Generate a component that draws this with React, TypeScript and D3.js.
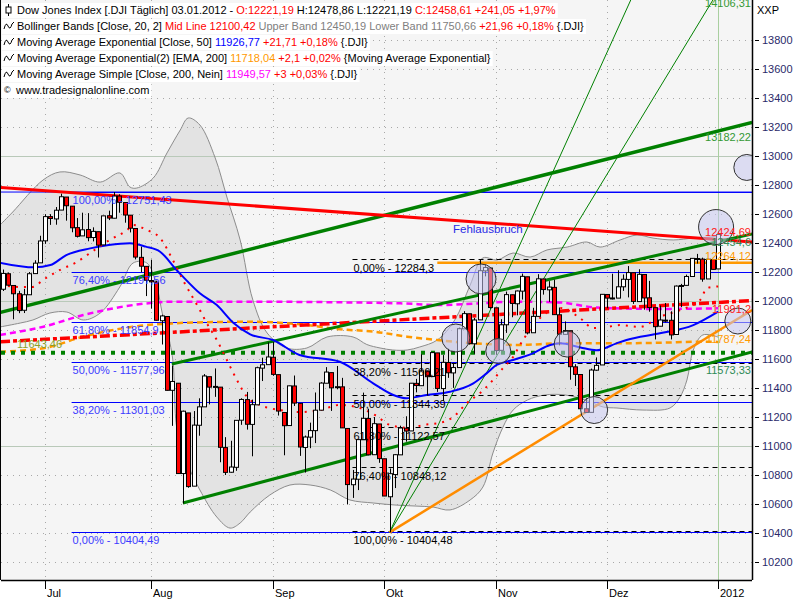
import React, { useLayoutEffect, useRef, useState } from 'react';
import * as d3 from 'd3';

// ---------- DATA ----------
const opens = [12081,12188,12107,12050,11936,12043,12189,12263,
12415,12582,12566,12627,12717,12654,12506,12449,12493,12438,12478,12387,12588,12571,12724,12679,12592,12500,12301,12239,
12141,12131,11864,11893,11384,11433,10810,11228,10723,11143,11270,11478,11404,11406,10989,10819,10853,11178,11320,11149,11284,11537,11561,
11612,11492,11231,11141,11414,11294,10990,11061,11106,11247,11433,11506,11402,11408,11121,10733,10771,11043,11190,10940,11152,
10912,10650,10803,10939,11123,11104,11432,11416,11518,11479,11642,11396,11576,11504,11541,11808,11912,11705,11870,12208,12227,
11953,11660,11836,12043,11981,12068,12167,11781,11894,12152,12077,12094,11905,11770,11795,11546,11493,11257,11232,11523,11559,
12045,12021,12020,12098,12149,12195,11996,12183,12022,11954,11826,11868,11867,11769,12103,12108,12169,12293,12289,12152,12286,
12221.19];
const highs = [12217,12197,12107,12070,12084,12200,12281,12450,
12599,12599,12648,12740,12717,12654,12572,12609,12606,12508,12478,12588,12623,12751.43,12736,12679,12592,12500,12375,12241,
12285,12140,11905,11893,11555,11433,11244,11228,11241,11329,11496,11478,11535,11406,11061,11036,11177,11329,11373,11320,11547,11609,11715,
11717,11492,11231,11416,11486,11294,11072,11161,11369,11440,11544,11506,11552,11470,11121,10835,11044,11368,11257,11200,11152,
10912,10845,10944,11140,11205,11433,11463,11633,11518,11649,11642,11627,11671,11574,11817,11930,11912,11883,12284.3,12251,12227,
11953,11875,12065,12043,12072,12189,12167,11953,12185,12152,12137,12147,11955,11859,11795,11564,11493,11329,11534,11611,12046,
12047,12188,12212,12183,12241,12195,12219,12183,12139,11954,11969,11986,11929,12107,12118,12182,12294,12325,12299,12292,12290,
12478.86];
const lows = [12069,12107,11874,11916,11917,12043,12188,12263,
12394,12525,12526,12627,12554,12474,12438,12449,12412,12411,12300,12387,12558,12570,12609,12540,12473,12287,12199,12034,
11947,11866,11700,11383,11139,10809,10604,10712,10723,11071,11270,11287,11339,10888,10800,10816,10829,11146,11113,10929,11284,11448,11561,
11484,11210,10936,11140,11276,10932,10817,10985,11020,11247,11433,11242,11391,11124,10597,10642,10696,11043,10936,10940,10884,
10655,10404.49,10710,10939,11030,11104,11370,11416,11347,11479,11373,11310,11470,11401,11541,11808,11700,11636,11870,12170,11946,
11629,11660,11780,11888,11901,12010,11770,11781,11894,12044,11994,11905,11694,11769,11457,11414,11257,11231,11232,11519,11559,
11950,12011,12020,12070,12025,11980,11996,11940,11926,11735,11826,11853,11735,11769,11958,12106,12169,12258,12133,12152,12217,
12221.19];
const closes = [12190,12109,12050,11934,12043,12188,12261,12414,
12582,12569,12626,12719,12657,12505,12446,12491,12437,12480,12385,12587,12572,12724,12681,12593,12502,12303,12240,12143,
12132,11867,11897,11384,11445,10810,11240,10720,11144,11270,11483,11406,11411,10991,10818,10855,11177,11321,11150,11285,11540,11560,11614,
11494,11241,11140,11415,11296,10993,11062,11106,11247,11434,11510,11401,11409,11125,10734,10772,11044,11191,10939,11154,10913,
10655,10809,10940,11124,11103,11433,11417,11519,11478,11644,11397,11577,11505,11541,11809,11913,11706,11869,12209,12231,11955,
11658,11836,12044,11983,12069,12170,11780,11894,12153,12079,12096,11906,11771,11796,11547,11494,11257,11231,11524,11556,12046,
12020,12019,12098,12150,12196,11997,12184,12021,11955,11823,11869,11866,11766,12103,12107,12169,12294,12291,12151,12288,12218,
12458.61];

const monthLabels = ['Jul', 'Aug', 'Sep', 'Okt', 'Nov', 'Dez', '2012'];
const monthStartIdx = [8, 28, 51, 72, 93, 114, 135];
const yTicks = [10200,10400,10600,10800,11000,11200,11400,11600,11800,12000,12200,12400,12600,12800,13000,13200,13400,13600,13800];
const solidLevels = [11000, 12000, 13000];

type P = [number, number];
const bbUpper: P[] = [[-0.5,12524],[1.9,12614],[7.6,12834],[10.8,12890],[14.6,12869],[18.4,12820],[22.1,12883],[24,12786],[25.3,12779],[28.4,12848],[31,13021],[33.5,13179],[35,13262],[37.2,13214],[40.1,12986],[42.3,12717],[44.8,12421],[47.2,12007],[49.9,11779],[53.6,11676],[57.4,11676],[61.2,11752],[66.1,11752],[68.7,11700],[71.2,11676],[73.6,11662],[76.3,11662],[78.7,11683],[82,11731],[85.3,11869],[88.2,12110],[90.6,12297],[93.3,12283],[96.3,12331],[99.5,12303],[102.7,12352],[106.5,12372],[110.2,12407],[112.7,12372],[116.5,12421],[119.7,12455],[122.7,12434],[126.5,12421],[130.3,12434],[133.5,12441],[135,12450.19]];
const bbLower: P[] = [[-0.5,11821],[3.3,11848],[5.7,11869],[8.9,11917],[12.1,11924],[15.2,11869],[18.4,11917],[22.1,12097],[24.6,12262],[27.2,12262],[29.1,12097],[30.1,11917],[31,11800],[32.1,11593],[32.9,11110],[34.8,10883],[37.2,10697],[40.4,10510],[42.9,10434],[44.8,10469],[46.7,10545],[50.4,10662],[54.2,10731],[58,10731],[61.8,10697],[65.5,10628],[69.9,10607],[74,10593],[77.8,10586],[81.2,10579],[84.4,10559],[88.2,10628],[90.6,10717],[92.5,10952],[94.4,11131],[96.3,11248],[99,11317],[102.3,11352],[106.1,11352],[109.9,11317],[113.3,11269],[115.9,11262],[120.8,11248],[125.9,11262],[127.8,11338],[129.1,11455],[130.3,11662],[132.1,11766],[135,11750.66]];
const bbMid: P[] = [[-0.5,12110],[3.3,12097],[5.7,12097],[7.6,12145],[10.8,12214],[14,12269],[16.5,12331],[20.2,12421],[23.5,12490],[24.6,12524],[27.2,12490],[29.7,12434],[32.1,12283],[34,12145],[37.2,11938],[38.5,11848],[40.4,11731],[42.3,11593],[44.2,11455],[46.1,11338],[48.5,11283],[52.3,11248],[56.1,11234],[59.9,11248],[63.6,11283],[67.4,11262],[70.2,11214],[73.1,11145],[76.9,11124],[79.3,11145],[82.5,11159],[85,11200],[87.6,11297],[90.1,11366],[92.5,11455],[94.4,11538],[96.3,11614],[97.6,11697],[101.4,11883],[105.2,11952],[108.9,11883],[111.4,11814],[114,11821],[116.5,11834],[120.2,11821],[124,11890],[127.8,11938],[131.6,12007],[132.9,12090],[135,12100.42]];
const ema50: P[] = [[-0.5,12264],[6,12232],[9,12248],[12,12317],[16.5,12363],[20,12386],[24,12398],[27,12375],[29.7,12340],[32.8,12214],[34,12168],[37.2,12053],[40.4,11972],[43.5,11850],[46.7,11770],[51,11731],[56,11628],[63.6,11581],[69.9,11432],[73.7,11352],[76.2,11329],[80,11352],[84.4,11374],[88.8,11432],[91.3,11501],[93.2,11559],[96.3,11593],[100,11639],[103.3,11697],[105.2,11708],[109,11680],[112,11660],[115.8,11708],[117.7,11731],[124,11777],[130.3,11834],[135,11926.77]];
const ema200: P[] = [[-0.5,11650],[7.7,11674],[15.2,11754],[24.6,11823],[32.2,11846],[40,11855],[46.7,11857],[56,11840],[63.6,11805],[70,11789],[76.3,11754],[82,11731],[88.8,11708],[97.6,11697],[105.2,11708],[113.3,11708],[124,11712],[131,11719],[135,11718.04]];
const sma200: P[] = [[-0.5,11766],[7.7,11823],[15.2,11903],[24.6,11972],[32.2,11995],[46.7,11995],[75,11984],[82.5,11972],[90,11984],[96.3,11995],[105,11990],[112,11955],[124,11945],[135,11949.57]];
const redRegression: P[] = [[-0.5,11719],[141.4,12003]];
const greenDottedLevel = 11643.46;

const fibLeftPct = [100, 76.4, 61.8, 50, 38.2, 0];
const fibLeftVal = [12751.43, 12197.56, 11854.9, 11577.96, 11301.03, 10404.49];
const fibMidPct = [0, 38.2, 50, 61.8, 76.4, 100];
const fibMidVal = [12284.3, 11566.21, 11344.39, 11122.57, 10848.12, 10404.48];
const orangeLevel = 12264.12;

const trendLines = [
  { p0: [-0.5, 11921] as P, p1: [141.4, 13231] as P, color: '#008000', w: 3.5 },
  { p0: [-0.5, 12783] as P, p1: [141.4, 12407] as P, color: '#ff0000', w: 3 },
  { p0: [31.9, 11566] as P, p1: [141.4, 12462] as P, color: '#008000', w: 3 },
  { p0: [34, 10607] as P, p1: [141.4, 11649] as P, color: '#008000', w: 3 },
  { p0: [73, 10404.48] as P, p1: [118.5, 14076] as P, color: '#008000', w: 1 },
  { p0: [73, 10404.48] as P, p1: [134, 14076] as P, color: '#008000', w: 1 },
  { p0: [73, 10404.48] as P, p1: [141.4, 11938] as P, color: '#ff8c00', w: 2.5 },
];

const circles: [number, number, number][] = [[90.25,12152,15],[85.5,11745,14],[93.5,11655,12.5],[106.5,11703,13],[111.6,11248,13.5],[134.6,12510,17.5],[138.7,11862,13],[140.4,12921,13]];

const rightLabels = [
  { text: '14106,31', value: 14106.31, color: '#339933', below: true },
  { text: '13182,22', value: 13182.22, color: '#339933', below: true },
  { text: '12454,6', value: 12454.6, color: '#2e8b57', below: true },
  { text: '12424,69', value: 12424.69, color: '#ff2020', below: false },
  { text: '12264,12', value: 12264.12, color: '#ff9900', below: false },
  { text: '11991,2', value: 11991.2, color: '#ff2020', below: true },
  { text: '11787,24', value: 11787.24, color: '#ff9900', below: true },
  { text: '11573,33', value: 11573.33, color: '#2e8b57', below: true },
];

const headerRows: [string, string][][] = [
  [['Dow Jones Index [.DJI  Täglich] 03.01.2012 - ', '#000'], ['O:12221,19', '#ff0000'], [' H:12478,86 L:12221,19 ', '#000'], ['C:12458,61 +241,05 +1,97%', '#ff0000']],
  [['Bollinger Bands [Close, 20, 2] ', '#000'], ['Mid Line 12100,42', '#ff0000'], [' Upper Band 12450,19 Lower Band 11750,66', '#808080'], [' +21,96 +0,18%', '#ff0000'], [' {.DJI}', '#000']],
  [['Moving Average Exponential [Close, 50] ', '#000'], ['11926,77', '#0000ff'], [' +21,71 +0,18%', '#ff0000'], [' {.DJI}', '#000']],
  [['Moving Average Exponential(2) [EMA, 200] ', '#000'], ['11718,04', '#ff9900'], [' +2,1 +0,02%', '#ff0000'], [' {Moving Average Exponential}', '#000']],
  [['Moving Average Simple [Close, 200, Nein] ', '#000'], ['11949,57', '#ff00ff'], [' +3 +0,03%', '#ff0000'], [' {.DJI}', '#000']],
  [['www.tradesignalonline.com', '#000']],
];

// ---------- LAYOUT ----------
const PL = 1, PR = 752, PT = 0, PB = 580;
const FONT = 'Liberation Sans, Arial, sans-serif';
const xs = d3.scaleLinear().domain([0, 135]).range([2.7, 718.2]);
const ys = d3.scaleLinear().domain([10200, 13800]).range([562, 40]);
const fmt = (v: number) => String(v).replace('.', ',');
const fmtPct = (p: number) => p.toFixed(2).replace('.', ',') + '%';

export default function App() {
  const rowRefs = useRef<(SVGTextElement | null)[]>([]);
  const [rowW, setRowW] = useState<number[]>(headerRows.map(() => 300));
  useLayoutEffect(() => {
    document.body.style.margin = '0';
    setRowW(rowRefs.current.map((t) => (t ? t.getBBox().x + t.getBBox().width + 2 : 300)));
  }, []);

  const lineMono = d3.line<P>().x((d) => xs(d[0])).y((d) => ys(d[1])).curve(d3.curveMonotoneX);
  const lineCR = d3.line<P>().x((d) => xs(d[0])).y((d) => ys(d[1])).curve(d3.curveCatmullRom.alpha(0.5));
  const lineLin = d3.line<P>().x((d) => xs(d[0])).y((d) => ys(d[1]));
  const bandPath = (lineCR(bbUpper) || '') + 'L' + (lineCR([...bbLower].reverse()) || '').slice(1) + 'Z';

  const idx = d3.range(closes.length);

  return (
    <svg width={800} height={600} style={{ position: 'absolute', left: 0, top: 0, background: '#fff' }} fontFamily={FONT}>
      <defs>
        <clipPath id="plot"><rect x={PL} y={PT} width={PR - PL} height={PB - PT} /></clipPath>
      </defs>
      <rect x={0} y={0} width={800} height={600} fill="#fff" />
      <rect x={PL} y={PT} width={PR - PL} height={PB - PT} fill="#f5f5f5" />
      <g clipPath="url(#plot)">
        {/* bollinger fill */}
        <path d={bandPath} fill="#e3e3e3" stroke="none" />
        {/* grid */}
        {yTicks.map((t) => (
          <line key={'gy' + t} x1={PL} x2={PR} y1={Math.round(ys(t)) + 0.5} y2={Math.round(ys(t)) + 0.5} stroke="#a8a8a8" strokeDasharray="1,5" />
        ))}
        {monthStartIdx.slice(0, 6).map((m) => (
          <line key={'gx' + m} x1={Math.round(xs(m)) + 0.5} x2={Math.round(xs(m)) + 0.5} y1={PT} y2={PB} stroke="#a8a8a8" strokeDasharray="1,5" />
        ))}
        {solidLevels.map((t) => (
          <line key={'sl' + t} x1={PL} x2={PR} y1={Math.round(ys(t)) + 0.5} y2={Math.round(ys(t)) + 0.5} stroke="#b9c9b9" />
        ))}
        <line x1={Math.round(xs(135)) + 0.5} x2={Math.round(xs(135)) + 0.5} y1={PT} y2={PB} stroke="#a9cfa0" />
        {/* band outline */}
        <path d={lineCR(bbUpper) || ''} fill="none" stroke="#8c8c8c" strokeWidth={1} />
        <path d={lineCR(bbLower) || ''} fill="none" stroke="#8c8c8c" strokeWidth={1} />

        {/* fib left (blue) */}
        <line x1={PL} x2={PR} y1={ys(fibLeftVal[0])} y2={ys(fibLeftVal[0])} stroke="#0000ff" strokeWidth={1} />
        {fibLeftVal.map((v, k) => (
          <line key={'fl' + k} x1={xs(13)} x2={PR} y1={Math.round(ys(v)) + 0.5} y2={Math.round(ys(v)) + 0.5} stroke="#0000ff" strokeWidth={1} />
        ))}
        {/* fib mid (black dashed) */}
        {fibMidVal.map((v, k) => (
          <line key={'fm' + k} x1={xs(66)} x2={PR} y1={Math.round(ys(v)) - 0.5} y2={Math.round(ys(v)) - 0.5} stroke="#000" strokeWidth={1} strokeDasharray="5,4" />
        ))}
        {/* orange horizontal */}
        <line x1={xs(82)} x2={PR} y1={ys(orangeLevel)} y2={ys(orangeLevel)} stroke="#ff9900" strokeWidth={2.5} />

        {/* moving averages */}
        <path d={lineMono(ema200) || ''} fill="none" stroke="#ff9900" strokeWidth={2.5} strokeDasharray="6,4" />
        <path d={lineMono(sma200) || ''} fill="none" stroke="#ff00ff" strokeWidth={2.5} strokeDasharray="6,4" />
        <path d={lineLin(redRegression) || ''} fill="none" stroke="#ff0000" strokeWidth={3.5} strokeDasharray="10,3,4,3" />
        <line x1={PL} x2={PR} y1={ys(greenDottedLevel)} y2={ys(greenDottedLevel)} stroke="#008000" strokeWidth={4} strokeDasharray="4,6" />

        {/* trend lines */}
        {trendLines.map((t, k) => (
          <path key={'tl' + k} d={lineLin([t.p0, t.p1]) || ''} fill="none" stroke={t.color} strokeWidth={t.w} />
        ))}

        <path d={lineMono(ema50) || ''} fill="none" stroke="#0000ff" strokeWidth={2} />
        <path d={lineMono(bbMid) || ''} fill="none" stroke="#ff0000" strokeWidth={2} strokeDasharray="2,6" />

        {/* candles */}
        {idx.map((i) => {
          const cx = Math.round(xs(i)) + 0.5;
          const o = ys(opens[i]), c = ys(closes[i]);
          const top = Math.min(o, c), h = Math.max(1, Math.abs(o - c));
          const up = closes[i] >= opens[i];
          return (
            <g key={'c' + i}>
              <line x1={cx} x2={cx} y1={ys(highs[i])} y2={ys(lows[i])} stroke="#000" strokeWidth={1} />
              <rect x={cx - 2} y={top} width={4} height={h} fill={up ? '#ffffff' : '#ff0000'} stroke="#000" strokeWidth={1} />
            </g>
          );
        })}

        {/* circles */}
        {circles.map((c, k) => (
          <circle key={'ci' + k} cx={xs(c[0])} cy={ys(c[1])} r={c[2]} fill="#c6c6ee" fillOpacity={0.55} stroke="#303030" strokeWidth={1} />
        ))}

        {/* fib labels */}
        {fibLeftVal.map((v, k) => (
          <text key={'flt' + k} x={xs(13) + 1} y={ys(v) + 12} fontSize={11} fill="#3c3cff">{fmtPct(fibLeftPct[k]) + ' - ' + fmt(v)}</text>
        ))}
        {fibMidVal.map((v, k) => (
          <text key={'fmt' + k} x={xs(66) + 1} y={ys(v) + 12} fontSize={11} fill="#000">{fmtPct(fibMidPct[k]) + ' - ' + fmt(v)}</text>
        ))}
        <text x={453} y={233} fontSize={11.5} fill="#2a2ae6">Fehlausbruch</text>
        <text x={17} y={ys(greenDottedLevel) - 5} fontSize={11} fill="#8aa028">{fmt(greenDottedLevel)}</text>
        {rightLabels.map((l, k) => (
          <text key={'rl' + k} x={PR - 1} y={ys(l.value) + (l.below ? 11 : -3)} fontSize={11} fill={l.color} textAnchor="end">{l.text}</text>
        ))}
      </g>

      {/* header legend */}
      {headerRows.map((row, r) => (
        <rect key={'hb' + r} x={2} y={3 + r * 16} width={Math.max(0, rowW[r] - 2)} height={15} fill="#fff" />
      ))}
      {headerRows.map((row, r) => (
        <text key={'ht' + r} ref={(el) => { rowRefs.current[r] = el; }} x={r === 5 ? 16 : 17} y={14 + r * 16} fontSize={11} fill="#000">
          {row.map((seg, s) => (<tspan key={s} fill={seg[1]}>{seg[0]}</tspan>))}
        </text>
      ))}
      {/* legend icons */}
      <line x1={8.5} x2={8.5} y1={4} y2={16} stroke="#000" />
      <rect x={6} y={7} width={5} height={6} fill="#fff" stroke="#000" />
      {[1, 2, 3, 4].map((r) => (
        <path key={'ic' + r} d={`M4,${13 + r * 16} Q6,${5 + r * 16} 8,${10 + r * 16} T12,${8 + r * 16} L14,${6 + r * 16}`} fill="none" stroke="#000" strokeWidth={1} />
      ))}
      <text x={4} y={93} fontSize={9} fill="#000">©</text>

      {/* frame */}
      <line x1={PL - 0.5} x2={PL - 0.5} y1={PT} y2={PB} stroke="#000" />
      <line x1={PL} x2={PR} y1={PB + 0.5} y2={PB + 0.5} stroke="#000" strokeWidth={1.5} />
      <line x1={PR + 0.5} x2={PR + 0.5} y1={PT} y2={PB} stroke="#000" strokeWidth={1.5} />

      {/* y axis */}
      {yTicks.map((t) => (
        <g key={'yt' + t}>
          <line x1={755} x2={759} y1={Math.round(ys(t)) + 0.5} y2={Math.round(ys(t)) + 0.5} stroke="#000" />
          <text x={762} y={ys(t) + 4} fontSize={11} fill="#2a2a6a">{t}</text>
        </g>
      ))}
      <text x={757} y={14} fontSize={11} fill="#000">XXP</text>

      {/* x axis */}
      {monthStartIdx.map((m, k) => (
        <g key={'xt' + k}>
          <line x1={Math.round(xs(m)) + 0.5} x2={Math.round(xs(m)) + 0.5} y1={581} y2={589} stroke="#000" />
          <text x={Math.round(xs(m)) + 2} y={597} fontSize={11} fill="#000">{monthLabels[k]}</text>
        </g>
      ))}
    </svg>
  );
}
